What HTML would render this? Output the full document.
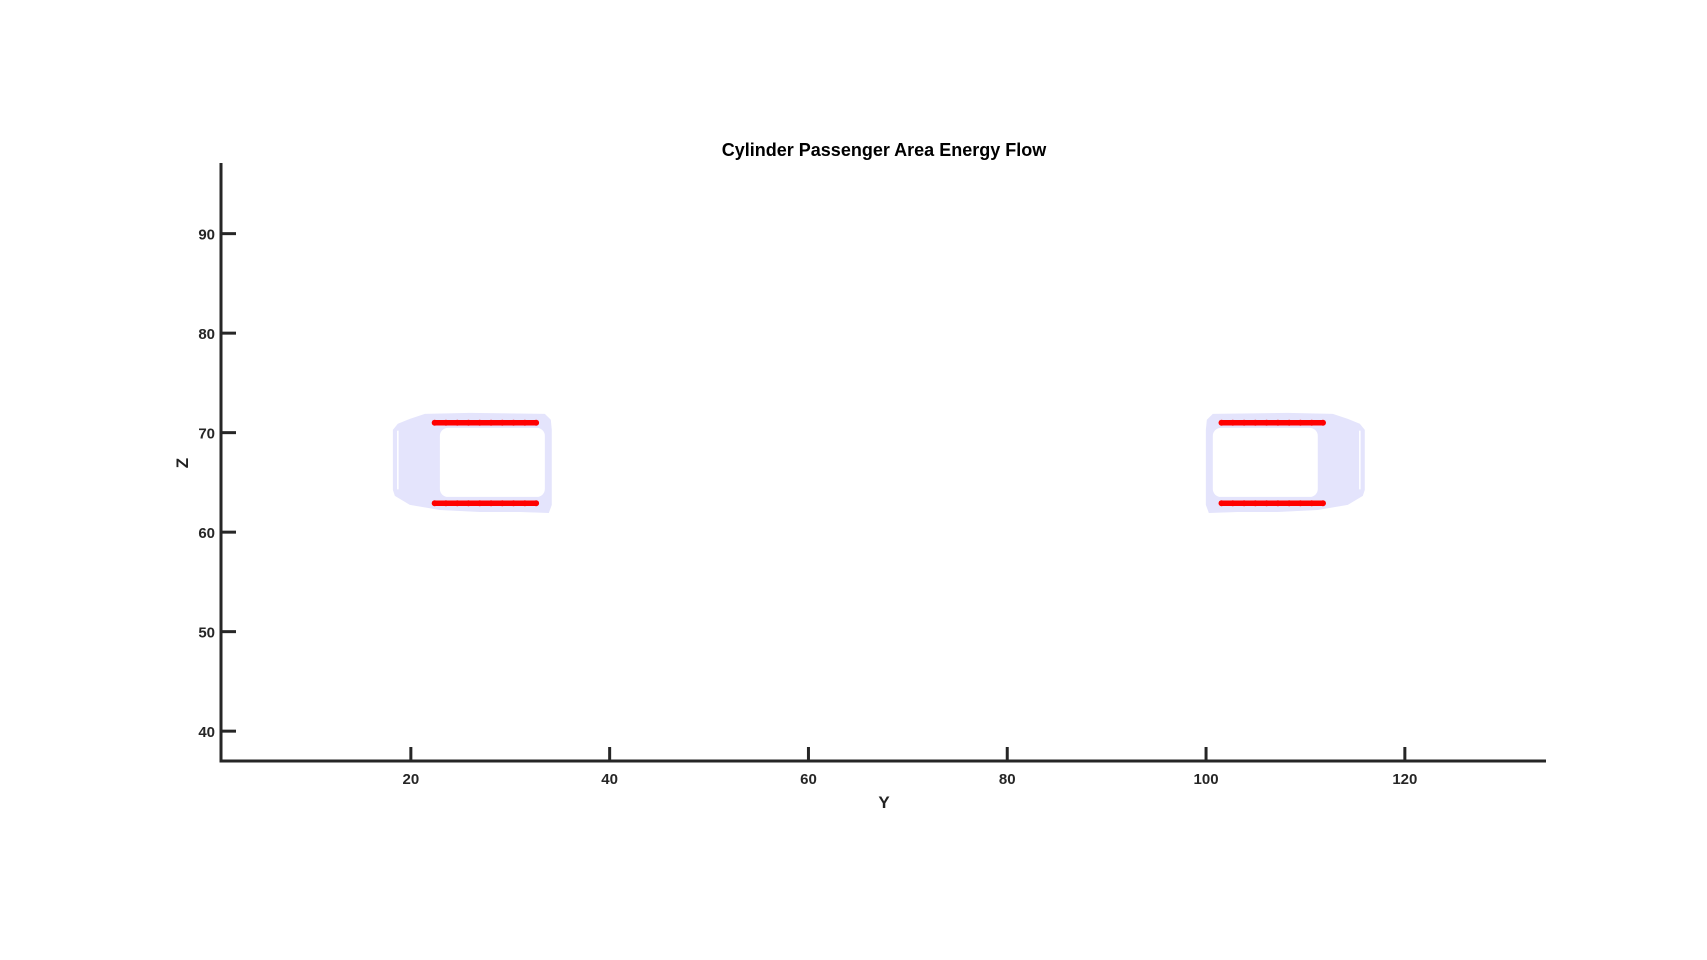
<!DOCTYPE html>
<html><head><meta charset="utf-8"><style>
html,body{margin:0;padding:0;background:#fff;}
svg{display:block;font-family:"Liberation Sans",Arial,sans-serif;}
</style></head><body>
<svg id="chart" width="1707" height="960" viewBox="0 0 1707 960">
<rect width="1707" height="960" fill="#fff"/>
<text x="884" y="156" text-anchor="middle" font-size="18" font-weight="bold" fill="#000">Cylinder Passenger Area Energy Flow</text>
<g id="plot"></g>
<g id="axes"></g>
<text x="884" y="808" text-anchor="middle" font-size="17" font-weight="bold" fill="#222">Y</text>
<text x="0" y="0" transform="translate(188,463) rotate(-90)" text-anchor="middle" font-size="17" font-weight="bold" fill="#222">Z</text>
</svg>
<script>
const xTicks = [20, 40, 60, 80, 100, 120];
const yTicks = [40, 50, 60, 70, 80, 90];
const xLim = [0.9, 134.2];
const yLim = [37.0, 97.1];
// left passenger area outline (data units)
const outerX = [18.19,18.69,19.90,21.41,25.94,33.48,34.08,34.18,34.18,33.88,30.97,26.94,22.92,19.90,18.39,18.19];
const outerZ = [70.28,70.89,71.39,71.89,71.99,71.89,71.29,70.28,62.74,61.93,62.03,62.03,62.23,62.74,63.64,64.25];
const innerX = [22.92,33.48,33.48,22.92];
const innerZ = [70.48,70.48,63.54,63.54];
const mirrorSum = 134.16;
const redX = [22.4,23.53,24.67,25.8,26.93,28.07,29.2,30.33,31.47,32.6];
const redTopZ = 71.0;
const redBotZ = 62.9;

const NS = "http://www.w3.org/2000/svg";
const X0 = 221, X1 = 1546, Y0 = 761, Y1 = 163;
const sx = v => X0 + (v - xLim[0]) / (xLim[1] - xLim[0]) * (X1 - X0);
const sy = v => Y0 - (v - yLim[0]) / (yLim[1] - yLim[0]) * (Y0 - Y1);
const plot = document.getElementById('plot');
const axes = document.getElementById('axes');
function mk(tag, attrs, parent) {
  const e = document.createElementNS(NS, tag);
  for (const k in attrs) e.setAttribute(k, attrs[k]);
  parent.appendChild(e);
  return e;
}
function pts(xs, zs, mir) {
  return xs.map((x, i) => sx(mir ? mirrorSum - x : x) + ',' + sy(zs[i])).join(' ');
}
[false, true].forEach((mir, k) => {
  const g = mk('g', {}, plot);
  
  
  const o = mk('polygon', {points: pts(outerX, outerZ, mir), fill: '#e4e4fc'}, g);
  
  
  const ix = mir ? innerX.map(x => mirrorSum - x) : innerX;
  const xa = Math.min(...ix), xb = Math.max(...ix);
  const r = mk('rect', {x: sx(xa), y: sy(innerZ[0]), width: sx(xb) - sx(xa), height: sy(innerZ[2]) - sy(innerZ[0]), rx: 8, fill: '#fff'}, g);
  
  
  const fx = mir ? mirrorSum - 18.69 : 18.69;
  const l = mk('line', {x1: sx(fx), x2: sx(fx), y1: sy(70.2), y2: sy(64.3), stroke: '#fff', 'stroke-width': 1.5}, g);
  
  
  [redTopZ, redBotZ].forEach((z, j) => {
    const xs = redX.map(x => mir ? mirrorSum - x : x);
    const pl = mk('polyline', {points: xs.map(x => sx(x) + ',' + sy(z)).join(' '), stroke: '#ff0000', 'stroke-width': 5.5, fill: 'none', 'stroke-linecap': 'round'}, g);
    
    
    xs.forEach(x => {
      const c = mk('circle', {cx: sx(x), cy: sy(z), r: 3, fill: '#ff0000'}, g);
      
      
    });
  });
});
const ya = mk('line', {x1: X0, x2: X0, y1: Y1, y2: Y0 + 1.5, stroke: '#262626', 'stroke-width': 3}, axes);


const xa = mk('line', {x1: X0 - 1.5, x2: X1, y1: Y0, y2: Y0, stroke: '#262626', 'stroke-width': 3}, axes);


xTicks.forEach(v => {
  const t = mk('line', {x1: sx(v), x2: sx(v), y1: Y0, y2: Y0 - 14, stroke: '#262626', 'stroke-width': 3}, axes);
  
  
  const tx = mk('text', {x: sx(v), y: 784, 'text-anchor': 'middle', 'font-size': 15, 'font-weight': 'bold', fill: '#262626'}, axes);
  tx.textContent = v;
  
  
});
yTicks.forEach(v => {
  const t = mk('line', {x1: X0, x2: X0 + 15, y1: sy(v), y2: sy(v), stroke: '#262626', 'stroke-width': 3}, axes);
  
  
  const tx = mk('text', {x: 215, y: sy(v) + 6, 'text-anchor': 'end', 'font-size': 15, 'font-weight': 'bold', fill: '#262626'}, axes);
  tx.textContent = v;
  
  
});
</script>
</body></html>
